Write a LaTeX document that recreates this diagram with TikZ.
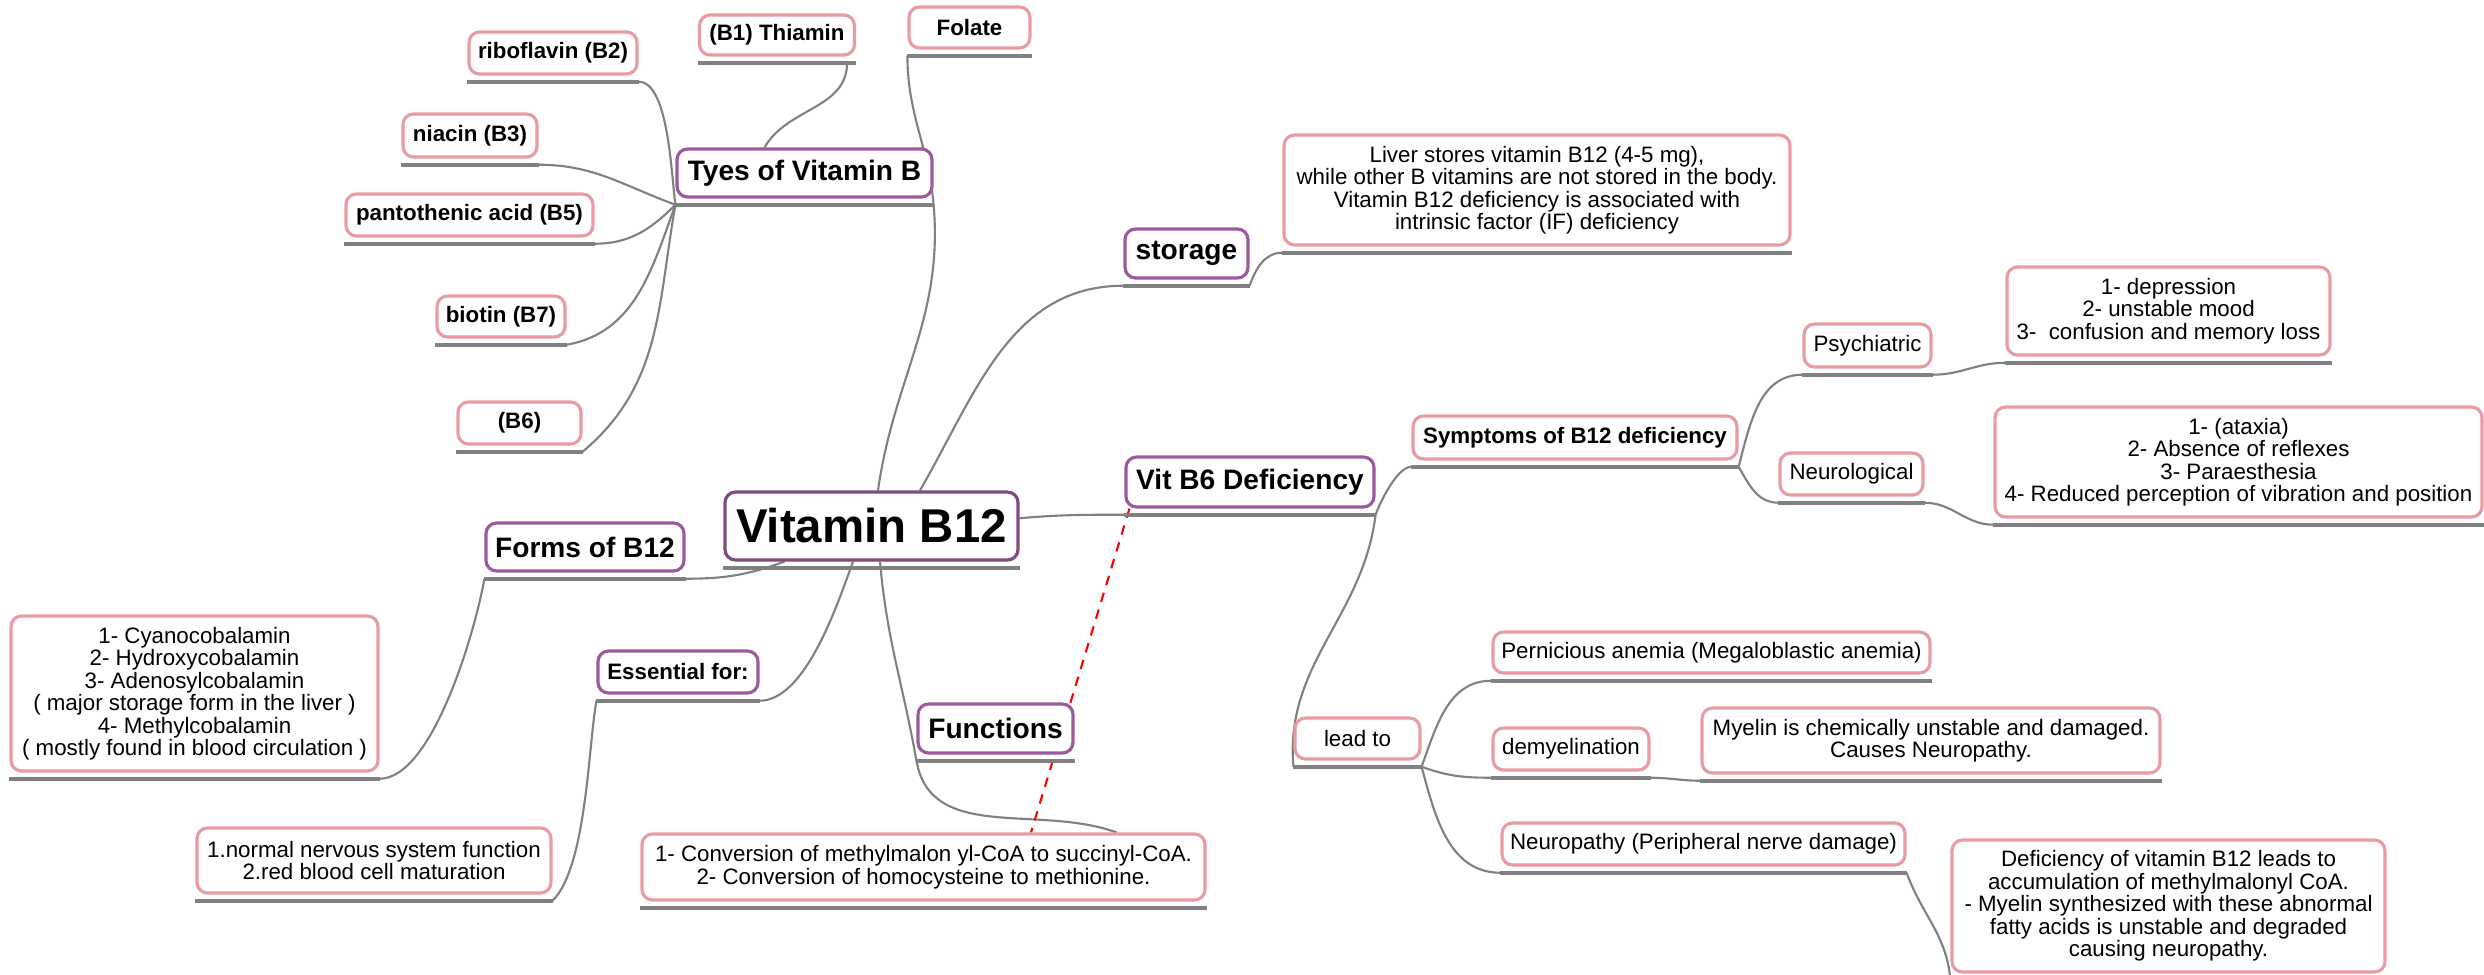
\documentclass[tikz,border=0pt]{standalone}
\usepackage{fontspec}
\setmainfont{Liberation Sans}
\usetikzlibrary{backgrounds}
\definecolor{pinkline}{HTML}{E89CA2}
\definecolor{purpline}{HTML}{9C5A9E}
\definecolor{rootline}{HTML}{7D4B80}
\definecolor{linegray}{HTML}{808080}
\begin{document}
\begin{tikzpicture}[x=0.02cm, y=-0.02cm,
  uline/.style={draw=linegray, line width=2.2pt},
  box/.style={draw=pinkline, line width=1.8pt, rounded corners=6pt, fill=white, align=center, inner sep=2pt,
    font=\fontsize{12.7pt}{12.8pt}\selectfont,
    append after command={([yshift=-3.5pt]\tikzlastnode.south west) edge[uline] ([yshift=-3.5pt]\tikzlastnode.south east)}},
  bbox/.style={box, font=\bfseries\fontsize{12.7pt}{12.8pt}\selectfont},
  topic/.style={box, draw=purpline, font=\bfseries\fontsize{16pt}{18pt}\selectfont},
  wh/.style 2 args={minimum width=#1*0.02cm, minimum height=#2*0.02cm},
  con/.style={draw=linegray, line width=1.2pt}]
\useasboundingbox (0,0) rectangle (2484,974);

\node[box, draw=rootline, line width=1.8pt, font=\bfseries\fontsize{27pt}{30pt}\selectfont, wh={293}{68}] (vb12) at (871.5,526) {Vitamin B12};

\node[topic, wh={255}{48}] (tyes) at (804.5,173) {Tyes of Vitamin B};
\node[bbox, wh={155}{40}] (thiamin) at (777,35) {(B1) Thiamin};
\node[bbox, wh={121}{41}] (folate) at (969.5,27.5) {Folate};
\node[bbox, wh={168}{42}] (ribo) at (553,53) {riboflavin (B2)};
\node[bbox, wh={134}{43}] (niacin) at (470,135.5) {niacin (B3)};
\node[bbox, wh={247}{42}] (panto) at (469.5,215) {pantothenic acid (B5)};
\node[bbox, wh={128}{41}] (biotin) at (501,316.5) {biotin (B7)};
\node[bbox, wh={123}{42}] (bsix) at (519.5,423) {(B6)};

\node[topic, wh={123}{49}] (storage) at (1186.5,253.5) {storage};
\node[box, wh={506}{110}] (liver) at (1537,190) {Liver stores vitamin B12 (4-5 mg),\\while other B vitamins are not stored in the body.\\Vitamin B12 deficiency is associated with\\intrinsic factor (IF) deficiency};

\node[topic, wh={248}{50}] (vbsix) at (1250,482) {Vit B6 Deficiency};
\node[bbox, wh={324}{43}] (sympt) at (1575,437.5) {Symptoms of B12 deficiency};
\node[box, wh={127}{43}] (psych) at (1867.5,345.5) {Psychiatric};
\node[box, wh={323}{88}] (depr) at (2168.5,311) {1- depression\\2- unstable mood\\3-\ \ confusion and memory loss};
\node[box, wh={143}{42}] (neuro) at (1851.5,474) {Neurological};
\node[box, wh={487}{110}] (ataxia) at (2238.5,462) {1- (ataxia)\\2- Absence of reflexes\\3- Paraesthesia\\4- Reduced perception of vibration and position};

\node[box, wh={125}{41}] (leadto) at (1357.5,738.5) {lead to};
\node[box, wh={437}{41}] (pern) at (1711.5,652.5) {Pernicious anemia (Megaloblastic anemia)};
\node[box, wh={156}{42}] (demy) at (1571,749) {demyelination};
\node[box, wh={458}{65}] (myelin) at (1931,740.5) {Myelin is chemically unstable and damaged.\\Causes Neuropathy.};
\node[box, wh={403}{42}] (neurop) at (1703.5,844) {Neuropathy (Peripheral nerve damage)};
\node[box, wh={433}{132}] (defic) at (2168.5,906) {Deficiency of vitamin B12 leads to\\accumulation of methylmalonyl CoA.\\- Myelin synthesized with these abnormal\\fatty acids is unstable and degraded\\causing neuropathy.};

\node[topic, wh={198}{48}] (forms) at (585,547) {Forms of B12};
\node[box, wh={367}{155}] (cyano) at (194.5,693.5) {1- Cyanocobalamin\\2- Hydroxycobalamin\\3- Adenosylcobalamin\\( major storage form in the liver )\\4- Methylcobalamin\\( mostly found in blood circulation )};
\node[topic, font=\bfseries\fontsize{12.7pt}{12.8pt}\selectfont, wh={160}{42}] (essen) at (678,672) {Essential for:};
\node[box, wh={354}{65}] (normal) at (374,860.5) {1.normal nervous system function\\2.red blood cell maturation};
\node[topic, wh={155}{49}] (funcs) at (995.5,728.5) {Functions};
\node[box, wh={563}{66}] (conv) at (923.5,867) {1- Conversion of methylmalon yl-CoA to succinyl-CoA.\\2- Conversion of homocysteine to methionine.};

\begin{scope}[on background layer]
\draw[con] ([xshift=.13cm]vb12.north) to[out=82,in=-85] ([yshift=-3.5pt]tyes.south east) to[out=95,in=-90] ([yshift=-3.5pt]folate.south west);
\draw[con] ([xshift=-.8cm]tyes.north) to[out=60,in=-90] ([xshift=-.18cm,yshift=-3.5pt]thiamin.south east);
\draw[con] ([yshift=-3.5pt]tyes.south west) to[out=98,in=0,looseness=.6] ([yshift=-3.5pt]ribo.south east);
\draw[con] ([yshift=-3.5pt]tyes.south west) to[out=160,in=0] ([yshift=-3.5pt]niacin.south east);
\draw[con] ([yshift=-3.5pt]tyes.south west) to[out=-135,in=0] ([yshift=-3.5pt]panto.south east);
\draw[con] ([yshift=-3.5pt]tyes.south west) to[out=-110,in=10] ([yshift=-3.5pt]biotin.south east);
\draw[con] ([yshift=-3.5pt]tyes.south west) to[out=-100,in=40] ([yshift=-3.5pt]bsix.south east);

\draw[con] ([xshift=.97cm]vb12.north) to[out=60,in=180] ([yshift=-3.5pt]storage.south west);
\draw[con] ([yshift=-3.5pt]storage.south east) to[out=70,in=180] ([yshift=-3.5pt]liver.south west);

\draw[con] (vb12.3) to[out=5,in=180] ([yshift=-3.5pt]vbsix.south west);
\draw[con] ([yshift=-3.5pt]vbsix.south east) to[out=70,in=180,looseness=.6] ([yshift=-3.5pt]sympt.south west);
\draw[con] ([yshift=-3.5pt]sympt.south east) to[out=75,in=180] ([yshift=-3.5pt]psych.south west);
\draw[con] ([yshift=-3.5pt]sympt.south east) to[out=-60,in=180] ([yshift=-3.5pt]neuro.south west);
\draw[con] ([yshift=-3.5pt]psych.south east) to[out=0,in=180] ([yshift=-3.5pt]depr.south west);
\draw[con] ([yshift=-3.5pt]neuro.south east) to[out=0,in=180] ([yshift=-3.5pt]ataxia.south west);

\draw[con] ([yshift=-3.5pt]vbsix.south east) to[out=-97,in=95] ([yshift=-3.5pt]leadto.south west);
\draw[con] ([yshift=-3.5pt]leadto.south east) to[out=70,in=180] ([yshift=-3.5pt]pern.south west);
\draw[con] ([yshift=-3.5pt]leadto.south east) to[out=-20,in=180] ([yshift=-3.5pt]demy.south west);
\draw[con] ([yshift=-3.5pt]leadto.south east) to[out=-75,in=180] ([yshift=-3.5pt]neurop.south west);
\draw[con] ([yshift=-3.5pt]demy.south east) to[out=0,in=180] ([yshift=-3.5pt]myelin.south west);
\draw[con] ([yshift=-3.5pt]neurop.south east) to[out=-70,in=95] ([yshift=-3.5pt]defic.south west);

\draw[con] ([xshift=1.22cm]vb12.south west) to[out=-160,in=0] ([yshift=-3.5pt]forms.south east);
\draw[con] ([yshift=-3.5pt]forms.south west) to[out=-100,in=0,looseness=.6] ([yshift=-3.5pt]cyano.south east);
\draw[con] ([xshift=-.37cm]vb12.south) to[out=-110,in=0,looseness=.7] ([yshift=-3.5pt]essen.south east);
\draw[con] ([yshift=-3.5pt]essen.south west) to[out=-100,in=45,looseness=.6] ([yshift=-3.5pt]normal.south east);
\draw[con] ([xshift=.17cm]vb12.south) to[out=-85,in=100] ([yshift=-3.5pt]funcs.south west) to[out=-80,in=160] ([xshift=-1.8cm]conv.north east);

\draw[red, line width=1.2pt, dash pattern=on 5.5pt off 4.5pt] ([xshift=.1cm]vbsix.south west) -- ([xshift=2.15cm]conv.north);
\end{scope}
\end{tikzpicture}
\end{document}
